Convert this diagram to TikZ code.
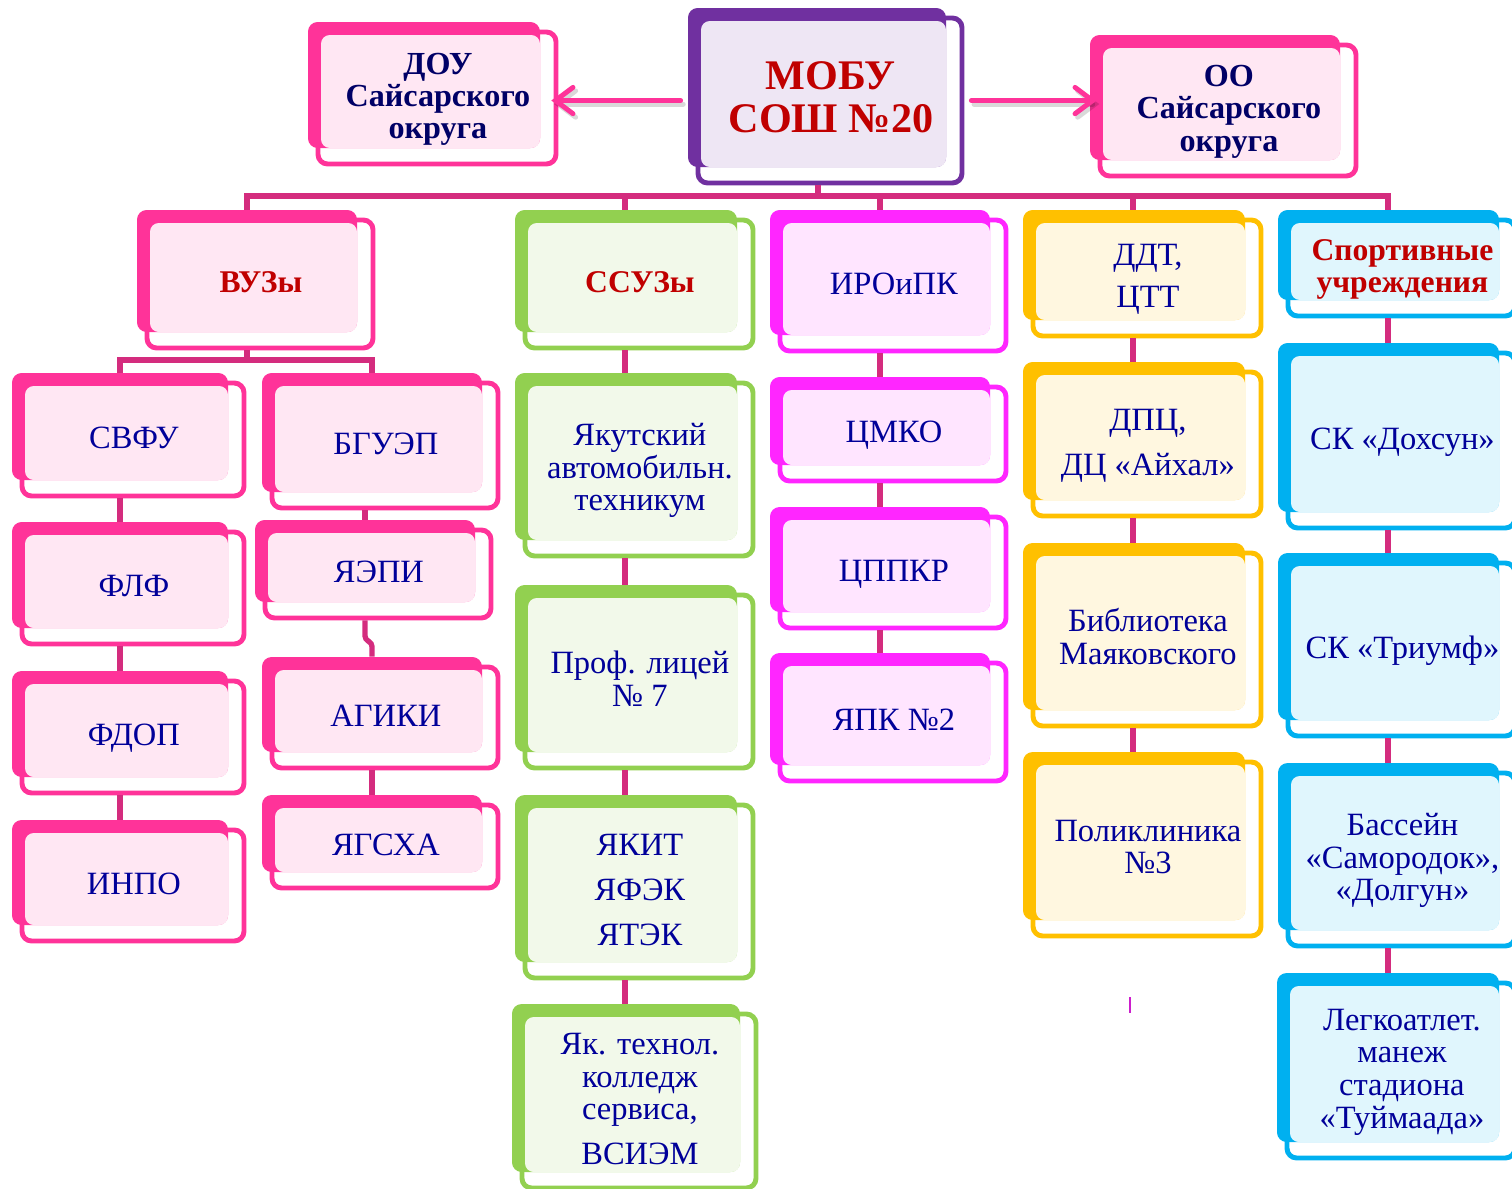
\documentclass[tikz,border=0pt]{standalone}
\usepackage{fontspec}
\setmainfont{Liberation Serif}
\usetikzlibrary{arrows.meta}
\definecolor{pinkbox}{HTML}{FF3399}
\definecolor{purplebox}{HTML}{7030A0}
\definecolor{greenbox}{HTML}{92D050}
\definecolor{magbox}{HTML}{FF26FF}
\definecolor{goldbox}{HTML}{FFC000}
\definecolor{bluebox}{HTML}{00B0F0}
\definecolor{connpink}{HTML}{D42C7E}
\definecolor{txtblue}{HTML}{000099}
\definecolor{txtnavy}{HTML}{000066}
\definecolor{txtred}{HTML}{C00000}
\tikzset{
	boxtext/.style={inner sep=0pt, text=txtblue, font=\fontsize{18.5}{18.6}\selectfont},
	headtext/.style={boxtext, text=txtred, font=\fontsize{18}{18.6}\selectfont\bfseries},
	toptext/.style={boxtext, text=txtnavy, font=\fontsize{18.3}{18.4}\selectfont\bfseries},
	maintext/.style={boxtext, text=txtred, font=\fontsize{24}{24.5}\selectfont\bfseries},
	conn/.style={draw=connpink, line width=3pt},
	arr/.style={draw=pinkbox, line width=2.8pt, line cap=round, -{Straight Barb[length=10pt,width=15pt,line cap=round]}},
	arrshadow/.style={arr, draw=black, opacity=.15},
}
% name, x0, y0, x1, y1, colour, text style, text
\newcommand{\orgbox}[8]{%
	\draw[draw=#6, fill=white, line width=2.8pt, rounded corners=5.5pt] (#2+10,#3+10) rectangle (#4+16,#5+16);
	\fill[#6, rounded corners=5.5pt] (#2,#3) rectangle (#4,#5);
	\fill[#6!12, rounded corners=5pt] (#2+13,#3+13) rectangle (#4,#5);
	\node[#7, minimum width={(#4+18-#2)*0.02cm}, minimum height={(#5+18-#3)*0.02cm}] (#1) at ({(#2+#4+18)/2},{(#3+#5+18)/2})
		{\raisebox{-3.4pt}[\height][\depth]{\hspace{5.6pt}\begin{tabular}{@{}c@{}}#8\end{tabular}}};
}
\begin{document}
\begin{tikzpicture}[x=0.02cm, y=-0.02cm]
	\useasboundingbox (0,0) rectangle (1512,1188);
	
	\orgbox{dou}{308}{22}{540}{148}{pinkbox}{toptext}{ДОУ\\Сайсарского\\округа}
	\orgbox{mobu}{688}{8}{946}{167}{purplebox}{maintext}{МОБУ\\СОШ №20}
	\orgbox{oo}{1090}{35}{1340}{160}{pinkbox}{toptext}{ОО\\Сайсарского\\округа}
	
	\orgbox{vuz}{137}{210}{357}{332}{pinkbox}{headtext}{ВУЗы}
	\orgbox{ssuz}{515}{210}{737}{332}{greenbox}{headtext}{ССУЗы}
	\orgbox{iro}{770}{210}{990}{335}{magbox}{boxtext}{ИРОиПК}
	\orgbox{ddt}{1023}{210}{1245}{320}{goldbox}{boxtext}{ДДТ,\\[5pt]ЦТТ}
	\orgbox{sport}{1278}{210}{1499}{300}{bluebox}{headtext}{Спортивные\\учреждения}
	
	\orgbox{svfu}{12}{373}{228}{480}{pinkbox}{boxtext}{СВФУ}
	\orgbox{flf}{12}{522}{228}{628}{pinkbox}{boxtext}{ФЛФ}
	\orgbox{fdop}{12}{671}{228}{777}{pinkbox}{boxtext}{ФДОП}
	\orgbox{inpo}{12}{820}{228}{925}{pinkbox}{boxtext}{ИНПО}
	
	\orgbox{bguep}{262}{373}{482}{492}{pinkbox}{boxtext}{БГУЭП}
	\orgbox{yaepi}{255}{520}{475}{602}{pinkbox}{boxtext}{ЯЭПИ}
	\orgbox{agiki}{262}{657}{482}{752}{pinkbox}{boxtext}{АГИКИ}
	\orgbox{yagsha}{262}{795}{482}{872}{pinkbox}{boxtext}{ЯГСХА}
	
	\orgbox{yat}{515}{373}{737}{540}{greenbox}{boxtext}{Якутский\\автомобильн.\\техникум}
	\orgbox{prof}{515}{585}{737}{752}{greenbox}{boxtext}{Проф. лицей\\№ 7}
	\orgbox{yakit}{515}{795}{737}{962}{greenbox}{boxtext}{ЯКИТ\\[7pt]ЯФЭК\\[7pt]ЯТЭК}
	\orgbox{yktk}{512}{1004}{740}{1172}{greenbox}{boxtext}{Як. технол.\\колледж\\сервиса,\\[7pt]ВСИЭМ}
	
	\orgbox{cmko}{770}{377}{990}{465}{magbox}{boxtext}{ЦМКО}
	\orgbox{cppkr}{770}{507}{990}{612}{magbox}{boxtext}{ЦППКР}
	\orgbox{yapk}{770}{653}{990}{765}{magbox}{boxtext}{ЯПК №2}
	
	\orgbox{dpc}{1023}{362}{1245}{500}{goldbox}{boxtext}{ДПЦ,\\[7pt]ДЦ «Айхал»}
	\orgbox{bibl}{1023}{543}{1245}{710}{goldbox}{boxtext}{Библиотека\\Маяковского}
	\orgbox{polik}{1023}{752}{1245}{920}{goldbox}{boxtext}{Поликлиника\\№3}
	
	\orgbox{doxsun}{1278}{343}{1499}{512}{bluebox}{boxtext}{СК «Дохсун»}
	\orgbox{triumf}{1278}{553}{1499}{720}{bluebox}{boxtext}{СК «Триумф»}
	\orgbox{bass}{1278}{763}{1499}{930}{bluebox}{boxtext}{Бассейн\\«Самородок»,\\«Долгун»}
	\orgbox{legk}{1277}{973}{1499}{1142}{bluebox}{boxtext}{Легкоатлет.\\манеж\\стадиона\\«Туймаада»}
	
	\coordinate (bus) at (818,196);
	\coordinate (split) at (247,360);
	\coordinate (jog) at (372,643);
	\coordinate (xa) at (120,0);
	\coordinate (xb) at (365,0);
	\coordinate (xc) at (625,0);
	\coordinate (xd) at (880,0);
	\coordinate (xe) at (1133,0);
	\coordinate (xf) at (1388,0);
	\coordinate (tick) at (1130,997);
	
	\draw[arrshadow, transform canvas={shift={(1.5pt,-2pt)}}] ([xshift=-4pt,yshift=-2.3pt]mobu.west) -- ([xshift=-4pt,yshift=-2.3pt]mobu.west -| dou.east);
	\draw[arrshadow, transform canvas={shift={(1.5pt,-2pt)}}] ([xshift=4pt,yshift=-2.3pt]mobu.east) -- ([xshift=4pt,yshift=-2.3pt]mobu.east -| oo.west);
	\draw[arr] ([xshift=-4pt,yshift=-2.3pt]mobu.west) -- ([xshift=-4pt,yshift=-2.3pt]mobu.west -| dou.east);
	\draw[arr] ([xshift=4pt,yshift=-2.3pt]mobu.east) -- ([xshift=4pt,yshift=-2.3pt]mobu.east -| oo.west);
	
	\draw[conn] (bus |- mobu.south) -- (bus);
	\draw[conn] (vuz.north -| split) |- (xf |- bus) -- (sport.north -| xf);
	\foreach \n/\c in {ssuz/xc, iro/xd, ddt/xe}
		\draw[conn] (\c |- bus) -- (\n.north -| \c);
	
	\draw[conn] (vuz.south -| split) -- (split);
	\draw[conn] (svfu.north -| xa) |- (split) -| (bguep.north -| jog);
	\foreach \a/\b in {svfu/flf, flf/fdop, fdop/inpo}
		\draw[conn] (\a.south -| xa) -- (\b.north -| xa);
	\draw[conn] (bguep.south -| xb) -- (yaepi.north -| xb);
	\draw[conn, rounded corners=2pt] (yaepi.south -| xb) -- ([yshift=2pt]xb |- jog) -- (jog) -- (agiki.north -| jog);
	\draw[conn] (agiki.south -| jog) -- (yagsha.north -| jog);
	
	\foreach \a/\b in {ssuz/yat, yat/prof, prof/yakit, yakit/yktk}
		\draw[conn] (\a.south -| xc) -- (\b.north -| xc);
	\foreach \a/\b in {iro/cmko, cmko/cppkr, cppkr/yapk}
		\draw[conn] (\a.south -| xd) -- (\b.north -| xd);
	\foreach \a/\b in {ddt/dpc, dpc/bibl, bibl/polik}
		\draw[conn] (\a.south -| xe) -- (\b.north -| xe);
	\foreach \a/\b in {sport/doxsun, doxsun/triumf, triumf/bass, bass/legk}
		\draw[conn] (\a.south -| xf) -- (\b.north -| xf);
	
	\draw[draw=magbox!80!black, line width=1.6pt] (tick) -- ++(0,16);
\end{tikzpicture}
\end{document}
